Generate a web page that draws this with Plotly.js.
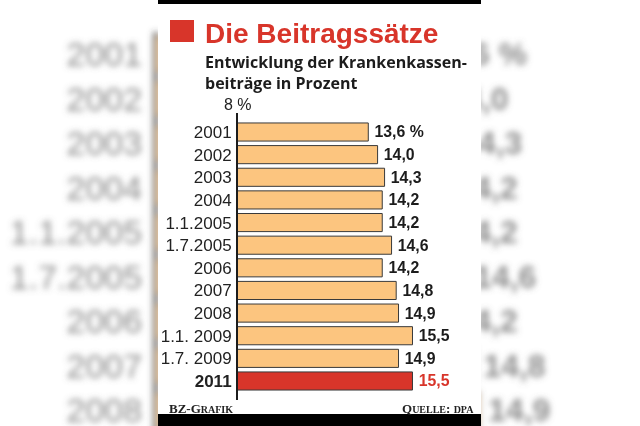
<!DOCTYPE html>
<html><head><meta charset="utf-8">
<script src="https://cdn.plot.ly/plotly-3.0.1.min.js"></script>
<style>
html,body{margin:0;padding:0;background:#fff;overflow:hidden;width:640px;height:426px;}
#wrap{position:relative;width:640px;height:426px;overflow:hidden;background:#fff;}
#bg{position:absolute;left:0;top:0;width:640px;height:600px;opacity:0.68;}
#fg{position:absolute;left:0;top:0;width:640px;height:426px;}
</style></head><body>
<div id="wrap"><div id="bg"></div><div id="fg"></div></div>
<script>
// ---- data ----
const categories = ["2001","2002","2003","2004","1.1.2005","1.7.2005","2006","2007","2008","1.1. 2009","1.7. 2009","2011"];
const rates = [13.6,14.0,14.3,14.2,14.2,14.6,14.2,14.8,14.9,15.5,14.9,15.5];
const valueLabels = ["13,6 %","14,0","14,3","14,2","14,2","14,6","14,2","14,8","14,9","15,5","14,9","15,5"];
const highlighted = ["2011"];
const axisStart = 8;
const axisLabel = "8 %";
const titleText = "Die Beitragssätze";
const subtitleLines = ["Entwicklung der Krankenkassen-","beiträge in Prozent"];
const creditText = "BZ-G<span style='font-size:10px'>RAFIK</span>";
const sourceText = "Q<span style='font-size:10px'>UELLE</span>: <span style='font-size:10px'>DPA</span>";

// ---- styles ----
const ORANGE = "#FCC57F", RED = "#D8352A", DARK = "#1c1c1c";
const isHi = c => highlighted.includes(c);
const barColors = categories.map(c => isHi(c) ? RED : ORANGE);
const textColors = categories.map(c => isHi(c) ? RED : DARK);
const tickText = categories.map(c => isHi(c) ? "<b>" + c + "</b>" : c);
const boldLabels = valueLabels.map(s => "<b>\u2009" + s + "</b>");

// ---- foreground chart ----
const W = 640, H = 426, M = {l:238, r:174, t:113, b:26};
const PW = W - M.l - M.r, PH = H - M.t - M.b;
const px = v => (v - M.l) / PW;
const py = v => 1 - (v - M.t) / PH;
const rect = (x0,x1,y0,y1,fill,layer) => ({type:"rect",xref:"paper",yref:"paper",
  x0:px(x0),x1:px(x1),y0:py(y0),y1:py(y1),fillcolor:fill,line:{width:0},layer:layer||"below"});

const trace = {
  type:"bar", orientation:"h", y:categories, x:rates,
  marker:{color:barColors, line:{color:"#3a3a3a", width:1}},
  text:boldLabels, textposition:"outside", cliponaxis:false,
  textfont:{family:"Liberation Sans, Arial, sans-serif", size:17.5, color:textColors},
  hoverinfo:"skip"
};

const layout = {
  width:W, height:H, margin:M, showlegend:false,
  paper_bgcolor:"rgba(0,0,0,0)", plot_bgcolor:"rgba(0,0,0,0)",
  bargap:0.2,
  xaxis:{range:[axisStart, 17.8], visible:false, fixedrange:true},
  yaxis:{type:"category", range:[11.84,-0.84], categoryorder:"array", categoryarray:categories,
    tickvals:categories, ticktext:tickText, showline:true, linecolor:DARK, linewidth:2,
    ticks:"", showgrid:false, zeroline:false, ticklabelstandoff:1,
    tickfont:{family:"Liberation Sans, Arial, sans-serif", size:17, color:"#222"}},
  shapes:[
    rect(158,481,0,426,"#ffffff"),
    rect(158,481,0,4,"#000000","above"),
    rect(158,481,414,426,"#000000","above"),
    rect(170,194,20,42,RED,"above")
  ],
  annotations:[
    {xref:"paper",yref:"paper",x:px(203),y:py(33),xanchor:"left",yanchor:"middle",showarrow:false,
     text:"<b>"+titleText+"</b>",font:{family:"Liberation Sans Narrow, Liberation Sans, sans-serif",size:28,color:RED}},
    {xref:"paper",yref:"paper",x:px(203),y:py(62),xanchor:"left",yanchor:"middle",showarrow:false,
     text:"<b>"+subtitleLines[0]+"</b>",font:{family:"Open Sans, sans-serif",size:16,color:DARK}},
    {xref:"paper",yref:"paper",x:px(203),y:py(83),xanchor:"left",yanchor:"middle",showarrow:false,
     text:"<b>"+subtitleLines[1]+"</b>",font:{family:"Open Sans, sans-serif",size:16,color:DARK}},
    {xref:"x",yref:"paper",x:axisStart,y:py(104),xanchor:"center",yanchor:"middle",showarrow:false,
     text:axisLabel,font:{family:"Liberation Sans, Arial, sans-serif",size:16,color:"#222"}},
    {xref:"paper",yref:"paper",x:px(167),y:py(408),xanchor:"left",yanchor:"middle",showarrow:false,
     text:"<b>"+creditText+"</b>",font:{family:"Liberation Serif, serif",size:13,color:"#222"}},
    {xref:"paper",yref:"paper",x:px(476),y:py(408),xanchor:"right",yanchor:"middle",showarrow:false,
     text:"<b>"+sourceText+"</b>",font:{family:"Liberation Serif, serif",size:13,color:"#222"}}
  ]
};

// ---- blurred, enlarged (2x) copy in the background ----
const bgTrace = Object.assign({}, trace, {
  marker:{color:barColors, line:{color:"#444", width:2}},
  text:valueLabels.map(s => "<b>\u2009" + s + "</b>"),
  textfont:{family:"Liberation Sans, Arial, sans-serif", size:34, color:"#555"}
});
const bgLayout = {
  width:640, height:600, margin:{l:158, r:17, t:32, b:34}, showlegend:false,
  paper_bgcolor:"#ffffff", plot_bgcolor:"#ffffff", bargap:0.2,
  xaxis:{range:[axisStart, 18], visible:false},
  yaxis:{type:"category", range:[11.5,-0.5], categoryorder:"array", categoryarray:categories,
    tickvals:categories, ticktext:tickText, showline:true, linecolor:"#333", linewidth:5,
    ticks:"", showgrid:false, zeroline:false, ticklabelstandoff:4,
    tickfont:{family:"Liberation Sans, Arial, sans-serif", size:34, color:"#555"}}
};

Plotly.newPlot("bg", [bgTrace], bgLayout, {staticPlot:true}).then(gd => {
  // soft blur of the enlarged background copy
  gd.querySelectorAll("svg.main-svg").forEach(svg => {
    const ns = "http://www.w3.org/2000/svg";
    const defs = document.createElementNS(ns, "defs");
    const f = document.createElementNS(ns, "filter");
    f.setAttribute("id", "bgblur");
    f.setAttribute("x", "-10%"); f.setAttribute("y", "-10%");
    f.setAttribute("width", "120%"); f.setAttribute("height", "120%");
    const g = document.createElementNS(ns, "feGaussianBlur");
    g.setAttribute("stdDeviation", "3.2");
    f.appendChild(g); defs.appendChild(f); svg.insertBefore(defs, svg.firstChild);
    Array.from(svg.children).forEach(ch => { if (ch.tagName !== "defs") ch.setAttribute("filter", "url(#bgblur)"); });
  });
});
Plotly.newPlot("fg", [trace], layout, {staticPlot:true});
</script>
</body></html>
